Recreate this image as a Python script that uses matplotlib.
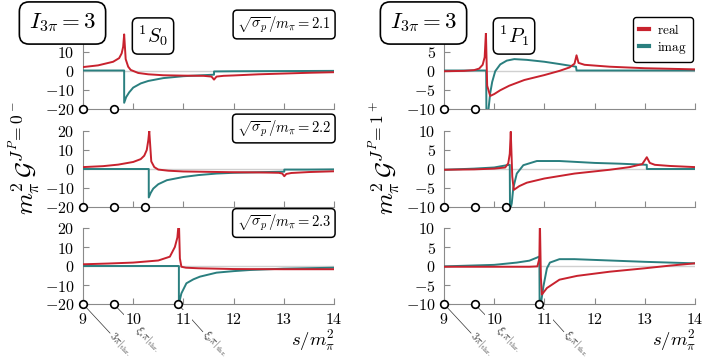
import matplotlib
matplotlib.use('Agg')
import matplotlib.pyplot as plt
from matplotlib.lines import Line2D

plt.rcParams['mathtext.fontset'] = 'cm'
plt.rcParams['font.family'] = 'DejaVu Serif'

RED = '#c8222e'
TEAL = '#2a7f7f'
ZERO = '#d0d0d0'
SPINE = '#8a8a8a'

# ---- chart values ----
sigma_p = [2.1, 2.2, 2.3]
thresholds = [[9.0, 9.61], [9.0, 9.61, 10.24], [9.0, 9.61, 10.89]]
thr_labels = [r'$3\pi|_{\rm thr.}$', r'$\xi_s\pi|_{\rm thr.}$', r'$\xi_p\pi|_{\rm thr.}$']
xticks = [9, 10, 11, 12, 13, 14]
yticks_S = [-20, -10, 0, 10, 20]
yticks_P = [-10, -5, 0, 5, 10]

# 1S0, sqrt(sigma_p)/m_pi = 2.1
s_re_S21 = [9.0, 9.3, 9.6, 9.72, 9.77, 9.80, 9.82, 9.85, 9.9, 9.95, 10.1, 10.3, 10.6, 11.0,
            11.4, 11.56, 11.61, 11.66, 11.8, 12.0, 12.5, 13.0, 13.5, 14.0]
re_S21 = [1.8, 2.7, 4.6, 6.5, 9.0, 12.5, 19.0, 6.0, 2.0, 0.3, -1.3, -2.0, -2.5, -2.7,
          -2.8, -3.2, -4.8, -3.2, -2.8, -2.6, -2.0, -1.6, -1.2, -0.9]
s_im_S21 = [9.0, 9.82, 9.82, 9.86, 9.92, 10.0, 10.15, 10.3, 10.6, 11.0, 11.3, 11.61, 11.61,
            12.0, 13.0, 14.0]
im_S21 = [0, 0, -17, -14, -11.5, -9.0, -6.8, -5.5, -4.0, -3.0, -2.6, -2.2, -0.5, -0.4, -0.3, -0.2]

# 1S0, 2.2
s_re_S22 = [9.0, 9.4, 9.7, 10.0, 10.15, 10.22, 10.27, 10.30, 10.32, 10.36, 10.42, 10.5, 10.7,
            11.0, 11.5, 12.0, 12.5, 12.9, 12.97, 13.01, 13.05, 13.15, 13.5, 14.0]
re_S22 = [1.0, 1.5, 2.3, 3.7, 5.2, 7.0, 10.0, 15.0, 20.0, 4.0, 1.0, -0.3, -0.9,
          -1.3, -1.5, -1.7, -1.8, -2.0, -2.4, -3.8, -2.6, -2.1, -1.6, -1.2]
s_im_S22 = [9.0, 10.31, 10.31, 10.35, 10.4, 10.5, 10.67, 11.0, 11.3, 11.66, 12.0, 12.66,
            13.01, 13.01, 13.5, 14.0]
im_S22 = [0, 0, -15, -12.5, -10.3, -8.0, -5.9, -4.2, -3.2, -2.4, -2.0, -1.6, -1.4, -0.3, -0.3, -0.2]

# 1S0, 2.3
s_re_S23 = [9.0, 9.5, 10.0, 10.5, 10.73, 10.83, 10.88, 10.91, 10.93, 10.96, 11.05, 11.3,
            12.0, 13.0, 14.0]
re_S23 = [0.9, 1.3, 1.8, 2.9, 4.9, 10.0, 15.0, 24.0, 4.0, -0.4, -0.9, -1.2, -1.6, -1.7, -1.7]
s_im_S23 = [9.0, 10.91, 10.91, 10.96, 11.06, 11.2, 11.33, 11.66, 12.0, 12.33, 13.0, 14.0]
im_S23 = [0, 0, -20, -14.4, -9.1, -7.0, -5.6, -3.5, -2.7, -2.1, -1.4, -0.9]

# 1P1, 2.1
s_re_P21 = [9.0, 9.4, 9.6, 9.7, 9.77, 9.81, 9.835, 9.86, 9.92, 10.0, 10.12, 10.3, 10.6, 11.0,
            11.3, 11.5, 11.6, 11.64, 11.68, 11.8, 12.3, 13.0, 14.0]
re_P21 = [-0.2, -0.1, 0.1, 0.5, 1.5, 3.5, 10.0, -4.0, -6.7, -6.2, -5.2, -4.0, -2.5, -1.2,
          -0.1, 0.8, 1.8, 4.0, 2.0, 1.5, 1.0, 0.6, 0.3]
s_im_P21 = [9.0, 9.84, 9.845, 9.88, 9.92, 9.96, 10.02, 10.12, 10.25, 10.4, 10.65, 11.0, 11.3,
            11.63, 11.64, 14.0]
im_P21 = [0, 0, -11, -11, -6, -3.0, -0.2, 1.6, 2.6, 3.0, 2.8, 2.3, 1.7, 1.0, 0, 0]

# 1P1, 2.2
s_re_P22 = [9.0, 9.6, 10.0, 10.22, 10.28, 10.31, 10.33, 10.36, 10.39, 10.5, 10.65, 11.0, 11.6,
            12.3, 12.7, 12.95, 13.04, 13.1, 13.2, 13.5, 14.0]
re_P22 = [-0.2, -0.1, 0.1, 0.4, 1.5, 4.0, 9.8, -2.0, -5.5, -4.5, -3.6, -2.5, -1.2,
          -0.2, 0.5, 1.3, 3.1, 1.6, 1.1, 0.8, 0.5]
s_im_P22 = [9.0, 9.6, 10.0, 10.25, 10.31, 10.315, 10.35, 10.38, 10.45, 10.58, 10.85, 11.3,
            12.0, 12.5, 13.04, 13.04, 14.0]
im_P22 = [-0.2, 0.1, 0.4, 1.0, 1.1, -11, -9, -5, -1.2, 1.0, 2.1, 2.1, 1.6, 1.4, 1.1, 0, 0]

# 1P1, 2.3
s_re_P23 = [9.0, 10.0, 10.7, 10.86, 10.9, 10.91, 10.93, 10.95, 11.05, 11.3, 11.65, 12.3,
            13.0, 13.5, 14.0]
re_P23 = [-0.2, -0.2, -0.2, -0.1, 2.0, 12.0, -3.0, -7.5, -5.8, -3.6, -2.6, -1.5, -0.6, 0.1, 0.7]
s_im_P23 = [9.0, 10.0, 10.45, 10.7, 10.85, 10.9, 10.905, 10.94, 10.98, 11.05, 11.11, 11.3,
            11.6, 12.0, 13.0, 14.0]
im_P23 = [-0.1, 0.3, 0.9, 1.4, 2.2, 2.5, -11, -9, -5.4, -0.6, 0.9, 1.8, 1.8, 1.6, 1.1, 0.7]

# ---- figure ----
W, H = 706, 360
fig = plt.figure(figsize=(W / 100, H / 100), dpi=100)


def px_axes(x0, y0, x1, y1):
    return fig.add_axes([x0 / W, 1 - y1 / H, (x1 - x0) / W, (y1 - y0) / H])


rows_y = [(32.5, 108.5), (131, 207), (228, 304)]
cols_x = [(83, 334), (444, 695)]

data = [
    [(s_re_S21, re_S21, s_im_S21, im_S21), (s_re_S22, re_S22, s_im_S22, im_S22),
     (s_re_S23, re_S23, s_im_S23, im_S23)],
    [(s_re_P21, re_P21, s_im_P21, im_P21), (s_re_P22, re_P22, s_im_P22, im_P22),
     (s_re_P23, re_P23, s_im_P23, im_P23)],
]
yticks_col = [yticks_S, yticks_P]
# leader offsets (points) for 3pi, xi_s, xi_p labels
lead = [(19.5, -21), (16, -16.5), (18, -20)]

for c, (x0, x1) in enumerate(cols_x):
    yt = yticks_col[c]
    for r, (y0, y1) in enumerate(rows_y):
        ax = px_axes(x0, y0, x1, y1)
        s_re, re, s_im, im = data[c][r]
        ax.axhline(0, color=ZERO, lw=1, zorder=1.6)
        ax.plot(s_im, im, color=TEAL, lw=1.4, zorder=3)
        ax.plot(s_re, re, color=RED, lw=1.4, zorder=4)
        ax.set_xlim(9, 14)
        ax.set_ylim(yt[0], yt[-1])
        for side in ['top', 'right']:
            ax.spines[side].set_visible(False)
        for side in ['left', 'bottom']:
            ax.spines[side].set_color(SPINE)
            ax.spines[side].set_linewidth(0.8)
        # top label of the first row sits under the title box
        ylabels = [f'${v}$' for v in yt]
        if r == 0:
            ylabels[-1] = ''
        ax.set_yticks(yt, ylabels)
        last = r == 2
        ax.set_xticks(xticks, [f'${v}$' for v in xticks] if last else [])
        ax.tick_params(direction='in', length=4, width=0.8, color=SPINE,
                       labelsize=11.5, pad=6)
        ax.tick_params(axis='x', pad=5)
        ax.plot(thresholds[r], [yt[0]] * len(thresholds[r]), 'o', ms=5.5, mfc='white',
                mec='black', mew=1.2, clip_on=False, zorder=6)
        if last:
            for t in ax.get_xticklabels():
                t.set_bbox(dict(fc='white', ec='none', pad=0.5))
            ths = thresholds[r]
            for k, (lbl, (dx, dy)) in enumerate(zip(thr_labels, lead)):
                ax.annotate('', xy=(ths[k], yt[0]), xytext=(dx, dy),
                            textcoords='offset points', annotation_clip=False,
                            arrowprops=dict(arrowstyle='-', color='#333333', lw=0.5,
                                            shrinkA=0, shrinkB=2.5), zorder=1)
                ax.annotate(lbl, xy=(ths[k], yt[0]), xytext=(dx + 0.8, dy - 0.8),
                            textcoords='offset points', annotation_clip=False,
                            rotation=-45, rotation_mode='anchor', ha='left',
                            va='center', fontsize=7.5, color='#333333')

box = dict(boxstyle='round,pad=0.42', fc='white', ec='black', lw=1.2)
for c, (x0, x1) in enumerate(cols_x):
    fig.text((x0 - 20.5) / W, 1 - 23 / H, r'$I_{3\pi} = 3$', ha='center', va='center',
             fontsize=16.5, bbox=box)
    wave = r'$^1S_0$' if c == 0 else r'$^1P_1$'
    fig.text((x0 + 70) / W, 1 - 36 / H, wave, ha='center', va='center', fontsize=14.5,
             bbox=dict(boxstyle='round,pad=0.28', fc='white', ec='black', lw=1.1))
    fig.text((x1 + 1) / W, 1 - 340 / H, r'$s/m_\pi^2$', ha='right', va='center',
             fontsize=13.5)

label_y = [24.5, 128.5, 223]
for r, v in enumerate(sigma_p):
    fig.text(331 / W, 1 - label_y[r] / H, r'$\sqrt{\sigma_p}/m_\pi = %.1f$' % v,
             ha='right', va='center', fontsize=10.5,
             bbox=dict(boxstyle='round,pad=0.28', fc='white', ec='black', lw=1.1))

fig.text(24 / W, 1 - 158 / H, r'$m_\pi^2\,\mathcal{G}^{J^P\!=0^-}$', rotation=90,
         ha='center', va='center', fontsize=18)
fig.text(384 / W, 1 - 158 / H, r'$m_\pi^2\,\mathcal{G}^{J^P\!=1^+}$', rotation=90,
         ha='center', va='center', fontsize=18)

handles = [Line2D([], [], color=RED, lw=3), Line2D([], [], color=TEAL, lw=3)]
leg = fig.legend(handles, [r'$\mathrm{real}$', r'$\mathrm{imag}$'], loc='upper right',
                 bbox_to_anchor=(693 / W, 1 - 17 / H), borderaxespad=0, fontsize=9.5,
                 handlelength=0.8, handletextpad=0.6, borderpad=0.45, labelspacing=0.2,
                 fancybox=True, framealpha=1, edgecolor='black')
leg.get_frame().set_linewidth(1.0)

fig.savefig('out.png', dpi=100)
